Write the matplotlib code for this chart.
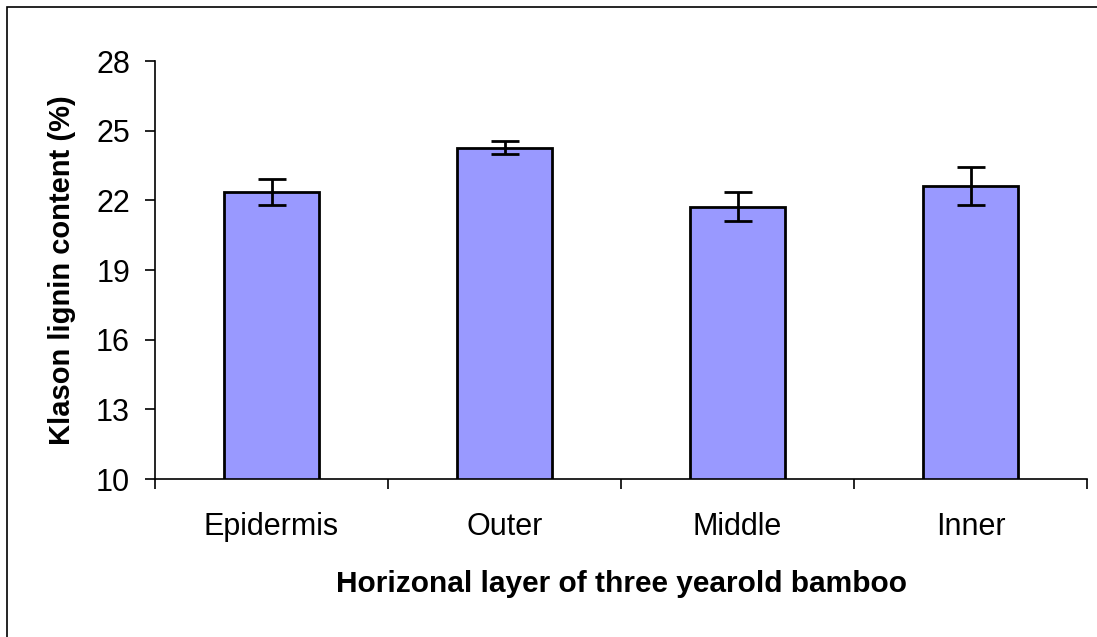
import matplotlib.pyplot as plt
from matplotlib.patches import Rectangle

# values
layers = ["Epidermis", "Outer", "Middle", "Inner"]
lignin = [22.38, 24.27, 21.72, 22.61]
lignin_err = [0.56, 0.28, 0.62, 0.82]
y_ticks = [10, 13, 16, 19, 22, 25, 28]

plt.rcParams['font.family'] = ['Liberation Sans', 'DejaVu Sans']

fig = plt.figure(figsize=(10.97, 6.37), dpi=100)
ax = fig.add_axes([0.1413, 0.248, 0.8496, 0.6562])

x = range(len(layers))
ax.bar(x, lignin, width=0.41, bottom=0, color="#9999FF", edgecolor="black",
       linewidth=2, zorder=2)
ax.errorbar(x, lignin, yerr=lignin_err, fmt="none", ecolor="black",
            elinewidth=2, capsize=10, capthick=2, zorder=3)

ax.set_xlim(-0.5, len(layers) - 0.5)
ax.set_ylim(10, 28)
ax.set_yticks(y_ticks)
ax.set_xticks([i for i in x])
ax.set_xticklabels(layers)
ax.set_xticks([i - 0.5 for i in range(len(layers) + 1)], minor=True)

ax.spines['top'].set_visible(False)
ax.spines['right'].set_visible(False)
for s in ('left', 'bottom'):
    ax.spines[s].set_linewidth(1.2)
    ax.spines[s].set_color("black")

ax.tick_params(axis='y', direction='out', length=7, width=1.2, labelsize=22, pad=11)
ax.tick_params(axis='x', which='major', length=0, labelsize=22, pad=24)
ax.tick_params(axis='x', which='minor', direction='out', length=7, width=1.2)

ax.set_ylabel("Klason lignin content (%)", fontsize=21, fontweight='bold', labelpad=14)
ax.set_xlabel("Horizonal layer of three yearold bamboo", fontsize=21.5,
              fontweight='bold', labelpad=20)

# outer frame (cropped at right and bottom in the original)
fig.patches.append(Rectangle((7 / 1097, -0.02), 1.05, 1 - 7 / 637 + 0.02,
                             transform=fig.transFigure, fill=False,
                             edgecolor="black", linewidth=1.2))

fig.savefig("out.png", dpi=100)
